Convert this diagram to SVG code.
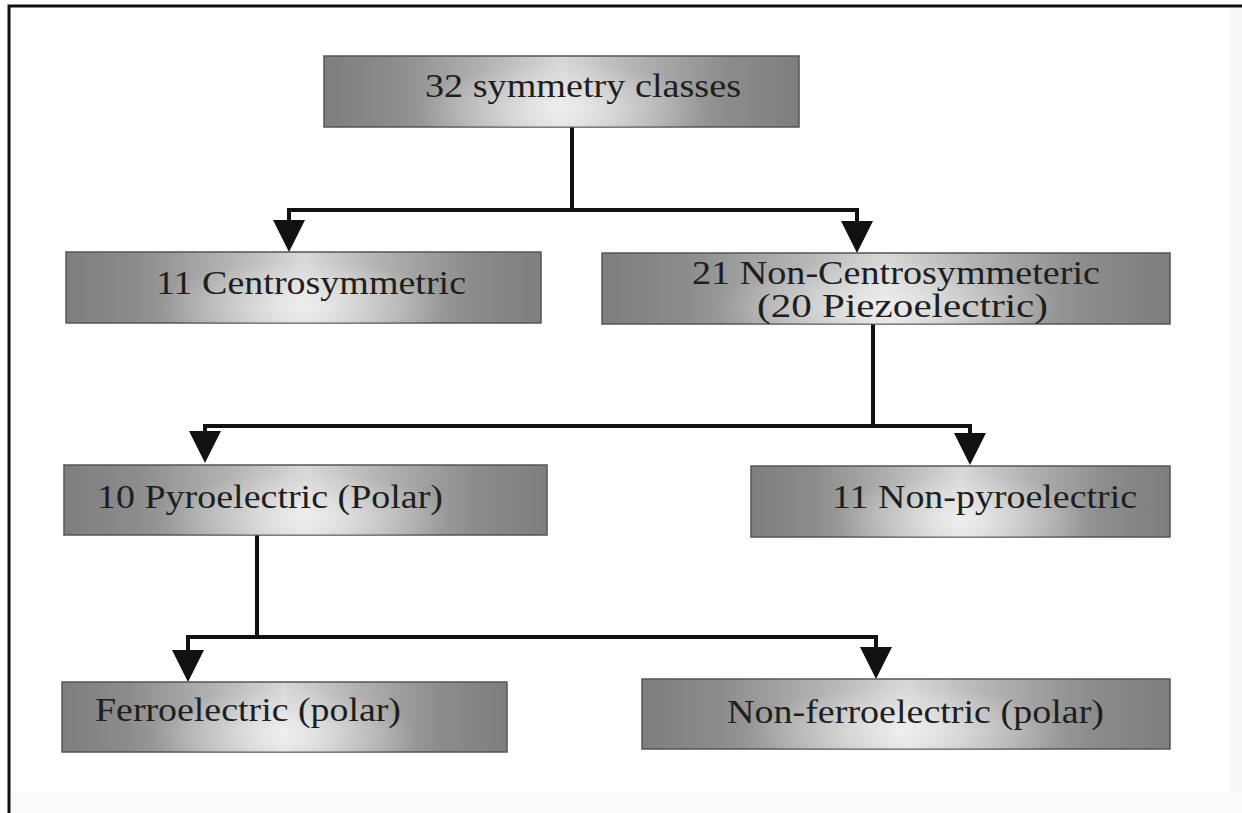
<svg xmlns="http://www.w3.org/2000/svg" width="1242" height="813" viewBox="0 0 1242 813">
  <defs>
    <!-- brushed-metal look for the class boxes -->
    <linearGradient id="metal" x1="0" y1="0" x2="1" y2="0">
      <stop offset="0" stop-color="#7e7e7e"/>
      <stop offset="0.15" stop-color="#8c8c8c"/>
      <stop offset="0.35" stop-color="#b4b4b4"/>
      <stop offset="0.5" stop-color="#d8d8d8"/>
      <stop offset="0.65" stop-color="#b4b4b4"/>
      <stop offset="0.85" stop-color="#8c8c8c"/>
      <stop offset="1" stop-color="#7e7e7e"/>
    </linearGradient>
    <radialGradient id="shine" cx="0.5" cy="0.75" r="0.3" gradientTransform="translate(0.5 0.75) scale(1 2.2) translate(-0.5 -0.75)">
      <stop offset="0" stop-color="#ffffff" stop-opacity="0.6"/>
      <stop offset="1" stop-color="#ffffff" stop-opacity="0"/>
    </radialGradient>
    <marker id="arrow" markerUnits="userSpaceOnUse" markerWidth="32" markerHeight="32" viewBox="0 0 32 32" refX="22" refY="16" orient="auto">
      <path d="M0,0 L32,16 L0,32 z" fill="#111"/>
    </marker>
    <style>
      .box { fill: url(#metal); stroke: #555; stroke-width: 1.5; }
      .gloss { fill: url(#shine); stroke: none; }
      .label { font-family: "Liberation Serif", "Times New Roman", serif; font-size: 33px; fill: #1e1e1e; }
      .wire { fill: none; stroke: #111; stroke-width: 4; stroke-linejoin: miter; }
      .frame { stroke: #111; stroke-width: 3; fill: none; }
    </style>
  </defs>

  <rect x="0" y="0" width="1242" height="813" fill="#ffffff"/>
  <rect x="1230" y="8" width="12" height="805" fill="#f8f8f8"/>
  <rect x="10" y="792" width="1232" height="21" fill="#fbfbfb"/>

  <!-- page frame: top and left rules -->
  <path class="frame" d="M9,813 V6 H1242"/>

  <g id="connectors">
    <path class="wire" d="M572,127 V210"/>
    <path class="wire" d="M574,210 H289 V242" marker-end="url(#arrow)"/>
    <path class="wire" d="M570,210 H857 V243" marker-end="url(#arrow)"/>
    <path class="wire" d="M873,324 V426"/>
    <path class="wire" d="M875,426 H205 V453" marker-end="url(#arrow)"/>
    <path class="wire" d="M871,426 H970 V455" marker-end="url(#arrow)"/>
    <path class="wire" d="M257,535 V637"/>
    <path class="wire" d="M259,637 H188 V672" marker-end="url(#arrow)"/>
    <path class="wire" d="M255,637 H876 V669" marker-end="url(#arrow)"/>
  </g>

  <g id="n-32-classes">
    <rect class="box" x="324" y="56" width="475" height="71"/>
    <rect class="gloss" x="324" y="56" width="475" height="71"/>
    <text class="label" x="425" y="97" textLength="316" lengthAdjust="spacingAndGlyphs">32 symmetry classes</text>
  </g>

  <g id="n-centro">
    <rect class="box" x="66" y="252" width="475" height="71"/>
    <rect class="gloss" x="66" y="252" width="475" height="71"/>
    <text class="label" x="156" y="294" textLength="310" lengthAdjust="spacingAndGlyphs">11 Centrosymmetric</text>
  </g>

  <g id="n-noncentro">
    <rect class="box" x="602" y="253" width="568" height="71"/>
    <rect class="gloss" x="602" y="253" width="568" height="71"/>
    <text class="label" x="692" y="284" textLength="408" lengthAdjust="spacingAndGlyphs">21 Non-Centrosymmeteric</text>
    <text class="label" x="757" y="317" textLength="291" lengthAdjust="spacingAndGlyphs">(20 Piezoelectric)</text>
  </g>

  <g id="n-pyro">
    <rect class="box" x="64" y="465" width="483" height="70"/>
    <rect class="gloss" x="64" y="465" width="483" height="70"/>
    <text class="label" x="97" y="508" textLength="346" lengthAdjust="spacingAndGlyphs">10 Pyroelectric (Polar)</text>
  </g>

  <g id="n-nonpyro">
    <rect class="box" x="751" y="466" width="419" height="71"/>
    <rect class="gloss" x="751" y="466" width="419" height="71"/>
    <text class="label" x="832" y="508" textLength="305" lengthAdjust="spacingAndGlyphs">11 Non-pyroelectric</text>
  </g>

  <g id="n-ferro">
    <rect class="box" x="62" y="682" width="445" height="70"/>
    <rect class="gloss" x="62" y="682" width="445" height="70"/>
    <text class="label" x="95" y="721" textLength="306" lengthAdjust="spacingAndGlyphs">Ferroelectric (polar)</text>
  </g>

  <g id="n-nonferro">
    <rect class="box" x="642" y="679" width="528" height="70"/>
    <rect class="gloss" x="642" y="679" width="528" height="70"/>
    <text class="label" x="727" y="723" textLength="377" lengthAdjust="spacingAndGlyphs">Non-ferroelectric (polar)</text>
  </g>
</svg>
